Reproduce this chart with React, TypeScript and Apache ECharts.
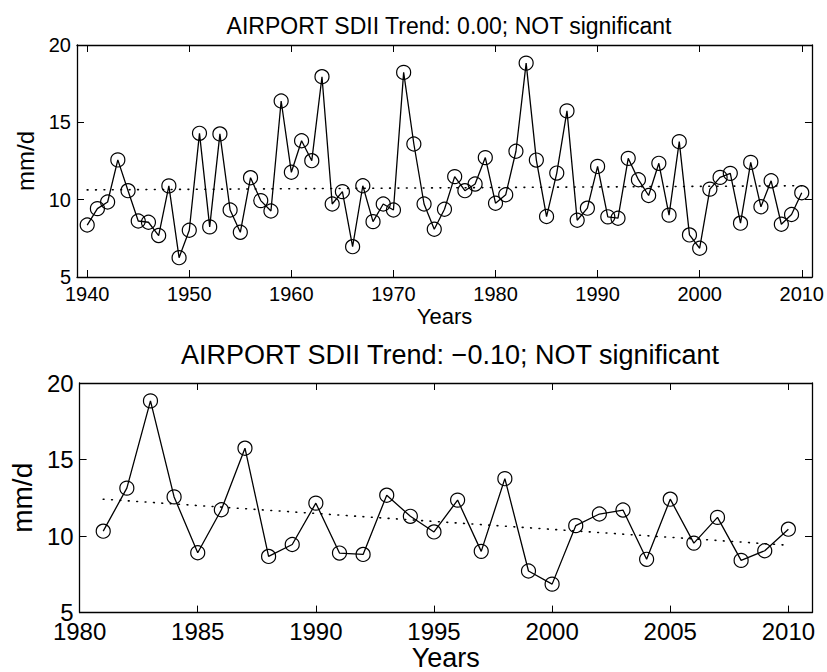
import React, { useEffect, useRef } from "react";
import * as echarts from "echarts";

const years = [
  1940, 1941, 1942, 1943, 1944, 1945, 1946, 1947, 1948, 1949,
  1950, 1951, 1952, 1953, 1954, 1955, 1956, 1957, 1958, 1959,
  1960, 1961, 1962, 1963, 1964, 1965, 1966, 1967, 1968, 1969,
  1970, 1971, 1972, 1973, 1974, 1975, 1976, 1977, 1978, 1979,
  1980, 1981, 1982, 1983, 1984, 1985, 1986, 1987, 1988, 1989,
  1990, 1991, 1992, 1993, 1994, 1995, 1996, 1997, 1998, 1999,
  2000, 2001, 2002, 2003, 2004, 2005, 2006, 2007, 2008, 2009,
  2010,
];

const sdii = [
  8.36, 9.42, 9.85, 12.57, 10.58, 8.62, 8.54, 7.68, 10.89, 6.25,
  8.02, 14.29, 8.24, 14.25, 9.33, 7.89, 11.42, 9.94, 9.27, 16.38,
  11.77, 13.81, 12.52, 17.95, 9.72, 10.52, 6.96, 10.9, 8.58, 9.72,
  9.33, 18.23, 13.6, 9.72, 8.09, 9.38, 11.49, 10.58, 11.01, 12.72,
  9.77, 10.32, 13.13, 18.83, 12.56, 8.91, 11.72, 15.74, 8.67, 9.45,
  12.15, 8.89, 8.8, 12.67, 11.29, 10.27, 12.35, 9.0, 13.75, 7.72,
  6.86, 10.68, 11.44, 11.7, 8.48, 12.41, 9.54, 11.22, 8.41, 9.04,
  10.45,
];

const recentStart = 1981;

const trendTopX = [1940, 2010];
const trendTopY = [10.63, 10.9];
const trendBottomX = [1981, 2010];
const trendBottomY = [12.41, 9.4];

const titleTop = "AIRPORT SDII Trend: 0.00; NOT significant";
const titleBottom = "AIRPORT SDII Trend: \u22120.10; NOT significant";
const yTicks = [5, 10, 15, 20];

const FONT = "Liberation Sans, Arial, Helvetica, sans-serif";

export default function App() {
  const ref = useRef<HTMLDivElement>(null);

  useEffect(() => {
    if (!ref.current) return;
    const chart = echarts.init(ref.current, null, { renderer: "svg" });

    const full = years.map((y, i) => [y, sdii[i]]);
    const recent = full.filter((p) => p[0] >= recentStart);
    const tTop = trendTopX.map((x, i) => [x, trendTopY[i]]);
    const tBot = trendBottomX.map((x, i) => [x, trendBottomY[i]]);

    const tickStyle = { show: true, inside: true, length: 7, lineStyle: { color: "#000", width: 1 } };
    const axisLine = { show: true, onZero: false, lineStyle: { color: "#000", width: 1.3 } };

    const mkX = (gi: number, min: number, max: number, fs: number, margin: number, nameGap: number, nameFs: number, step: number) => [
      {
        type: "value",
        gridIndex: gi,
        min,
        max,
        splitNumber: 7,
        ...(step === 5 ? { interval: 5 } : {}),
        position: "bottom",
        axisLine,
        axisTick: tickStyle,
        splitLine: { show: false },
        axisLabel: {
          color: "#000",
          fontSize: fs,
          lineHeight: Math.round(fs * 0.8),
          fontFamily: FONT,
          margin,
          formatter: (v: number) => (v % step === 0 ? String(v) : ""),
        },
        name: "Years",
        nameLocation: "middle",
        nameGap,
        nameTextStyle: { color: "#000", fontSize: nameFs, fontFamily: FONT },
      },
      {
        type: "value",
        gridIndex: gi,
        min,
        max,
        splitNumber: 7,
        ...(step === 5 ? { interval: 5 } : {}),
        position: "top",
        axisLine,
        axisTick: tickStyle,
        splitLine: { show: false },
        axisLabel: { show: false },
      },
    ];

    const mkY = (gi: number, fs: number, nameGap: number, nameFs: number) => [
      {
        type: "value",
        gridIndex: gi,
        min: yTicks[0],
        max: yTicks[yTicks.length - 1],
        interval: 5,
        position: "left",
        axisLine,
        axisTick: tickStyle,
        splitLine: { show: false },
        axisLabel: {
          color: "#000",
          fontSize: fs,
          lineHeight: Math.round(fs * 0.75),
          fontFamily: FONT,
          margin: 6,
        },
        name: "mm/d",
        nameLocation: "middle",
        nameGap,
        nameTextStyle: { color: "#000", fontSize: nameFs, fontFamily: FONT },
      },
      {
        type: "value",
        gridIndex: gi,
        min: yTicks[0],
        max: yTicks[yTicks.length - 1],
        interval: 5,
        position: "right",
        axisLine,
        axisTick: tickStyle,
        splitLine: { show: false },
        axisLabel: { show: false },
      },
    ];

    const dataSeries = (xi: number, yi: number, data: number[][]) => ({
      type: "line",
      xAxisIndex: xi,
      yAxisIndex: yi,
      data,
      symbol: "circle",
      symbolSize: 14,
      itemStyle: { color: "rgba(0,0,0,0)", borderColor: "#000", borderWidth: 1.2 },
      lineStyle: { color: "#000", width: 1.3 },
      z: 3,
    });
    const trendSeries = (xi: number, yi: number, data: number[][]) => ({
      type: "line",
      xAxisIndex: xi,
      yAxisIndex: yi,
      data,
      symbol: "none",
      lineStyle: { color: "#000", width: 1.6, type: [0.8, 7.6], cap: "round" },
      z: 2,
    });

    chart.setOption({
      animation: false,
      backgroundColor: "#fff",
      title: [
        {
          text: titleTop,
          left: 444,
          top: 9,
          textAlign: "center",
          textStyle: { color: "#000", fontSize: 23, fontWeight: "normal", fontFamily: FONT },
        },
        {
          text: titleBottom,
          left: 445,
          top: 336,
          textAlign: "center",
          textStyle: { color: "#000", fontSize: 27, fontWeight: "normal", fontFamily: FONT },
        },
      ],
      grid: [
        { left: 77, top: 45, width: 736, height: 232, show: false },
        { left: 77, top: 383, width: 735, height: 231, show: false },
      ],
      xAxis: [
        ...mkX(0, 1939, 2011, 20, 9, 28, 22, 10),
        ...mkX(1, 1980, 2011, 24, 9, 30, 27, 5),
      ],
      yAxis: [...mkY(0, 20, 33, 24), ...mkY(1, 24, 37, 28)],
      series: [
        dataSeries(0, 0, full),
        trendSeries(0, 0, tTop),
        dataSeries(2, 2, recent),
        trendSeries(2, 2, tBot),
      ],
    });

    return () => chart.dispose();
  }, []);

  return (
    <div
      ref={ref}
      style={{ position: "absolute", left: 0, top: 0, width: 827, height: 672, background: "#fff" }}
    />
  );
}
